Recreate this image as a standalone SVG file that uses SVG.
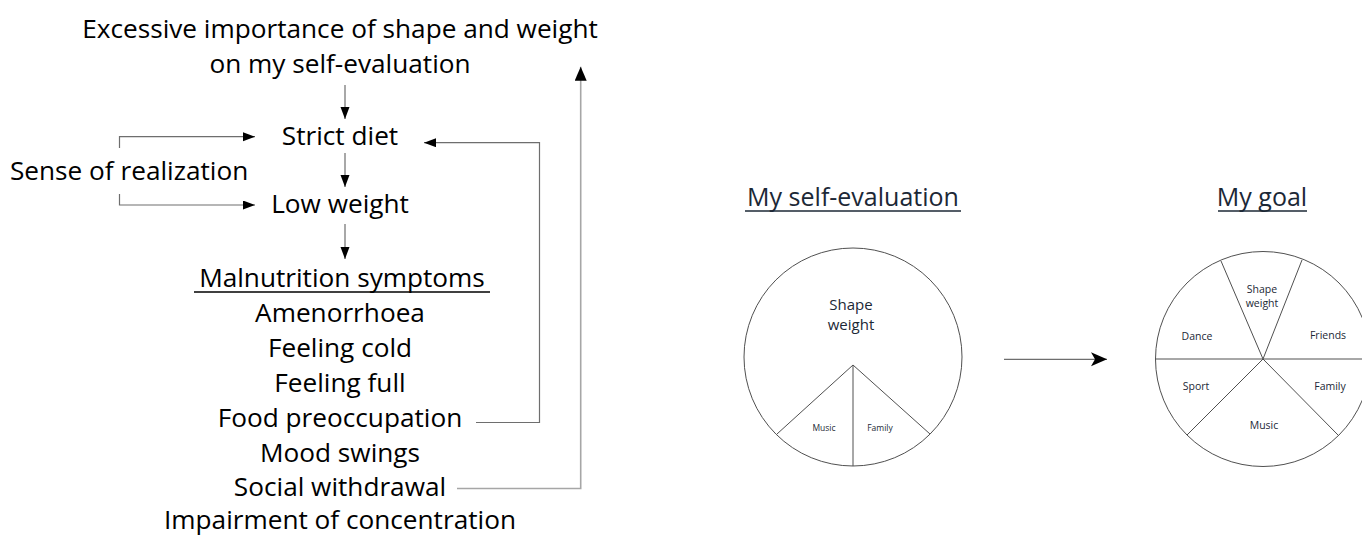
<svg xmlns="http://www.w3.org/2000/svg" width="1362" height="536" viewBox="0 0 1362 536">
<style>
.t{font-family:"Open Sans","Noto Sans",sans-serif;font-size:26.2px;fill:#000;text-anchor:middle}
.ts{text-anchor:start}
.c{font-family:"Open Sans","Noto Sans",sans-serif;fill:#1c2836;text-anchor:middle}
.h{font-size:25px}
.l{font-size:15px}
.m{font-size:10.5px}
.s{font-size:8.5px}
.ln{fill:none;stroke:#6e6e6e;stroke-width:1.2}
.lg{fill:none;stroke:#a6a6a6;stroke-width:1.6}
.pie{fill:none;stroke:#505050;stroke-width:1}
.ul{stroke:#000;stroke-width:1.3}
.uc{stroke:#1c2836;stroke-width:1.6}
</style>
<defs>
<marker id="ah" markerUnits="userSpaceOnUse" markerWidth="13" markerHeight="10" refX="12" refY="4.5" orient="auto">
<path d="M0,0 L12,4.5 L0,9 z" fill="#000"/>
</marker>
<marker id="ahl" markerUnits="userSpaceOnUse" markerWidth="15" markerHeight="13" refX="14" refY="6" orient="auto">
<path d="M0,0 L14,6 L0,12 z" fill="#000"/>
</marker>
<marker id="ahs" markerUnits="userSpaceOnUse" markerWidth="17" markerHeight="15" refX="16" refY="7" orient="auto">
<path d="M0,0 L16,7 L0,14 L4,7 z" fill="#000"/>
</marker>
</defs>

<g id="node-excessive"><text class="t" x="340" y="38">Excessive importance of shape and weight</text><text class="t" x="340" y="73">on my self-evaluation</text></g>
<g id="node-strict-diet"><text class="t" x="340" y="145">Strict diet</text></g>
<g id="node-sense"><text class="t ts" x="10" y="180">Sense of realization</text></g>
<g id="node-low-weight"><text class="t" x="340" y="213">Low weight</text></g>
<g id="node-malnutrition">
<text class="t" x="342" y="287">Malnutrition symptoms</text>
<line class="ul" x1="194" y1="292" x2="490" y2="292"/>
<text class="t" x="340" y="322">Amenorrhoea</text>
<text class="t" x="340" y="357">Feeling cold</text>
<text class="t" x="340" y="392">Feeling full</text>
<text class="t" x="340" y="427">Food preoccupation</text>
<text class="t" x="340" y="462">Mood swings</text>
<text class="t" x="340" y="496">Social withdrawal</text>
<text class="t" x="340" y="529">Impairment of concentration</text>
</g>

<g id="node-self-eval">
<text class="c h" x="853" y="206">My self-evaluation</text>
<line class="uc" x1="745" y1="211" x2="961" y2="211"/>
<circle class="pie" cx="853" cy="357" r="109"/>
<path class="pie" d="M777,434 L853,365 L930,434 M853,365 L853,466"/>
<text class="c l" x="851" y="310">Shape</text>
<text class="c l" x="851" y="330">weight</text>
<text class="c s" x="824" y="431">Music</text>
<text class="c s" x="880" y="431">Family</text>
</g>

<g id="node-goal">
<text class="c h" x="1262" y="206">My goal</text>
<line class="uc" x1="1218" y1="211" x2="1307" y2="211"/>
<circle class="pie" cx="1263" cy="359" r="107.5"/>
<path class="pie" d="M1155.5,359 L1372,359 M1263,359 L1221,261 M1263,359 L1302,260 M1263,359 L1187,435 M1263,359 L1338,435"/>
<text class="c m" x="1262" y="293">Shape</text>
<text class="c m" x="1262" y="307">weight</text>
<text class="c m" x="1197" y="340">Dance</text>
<text class="c m" x="1328" y="339">Friends</text>
<text class="c m" x="1196" y="390">Sport</text>
<text class="c m" x="1330" y="390">Family</text>
<text class="c m" x="1264" y="429">Music</text>
</g>

<g id="connectors">
<line class="ln" x1="345" y1="85" x2="345" y2="119" marker-end="url(#ah)"/>
<line class="ln" x1="345" y1="153" x2="345" y2="187" marker-end="url(#ah)"/>
<line class="ln" x1="345" y1="224" x2="345" y2="259" marker-end="url(#ah)"/>
<polyline class="ln" points="119.5,148 119.5,136.7 255,136.7" marker-end="url(#ah)"/>
<polyline class="ln" points="119.5,194 119.5,205 255,205" marker-end="url(#ah)"/>
<polyline class="ln" points="476,422.5 539.5,422.5 539.5,142.7 424,142.7" marker-end="url(#ah)"/>
<polyline class="lg" points="457,488.5 580.7,488.5 580.7,66.7" marker-end="url(#ahl)"/>
<line class="ln" x1="1004" y1="359.3" x2="1107" y2="359.3" marker-end="url(#ahs)"/>
</g>
</svg>
